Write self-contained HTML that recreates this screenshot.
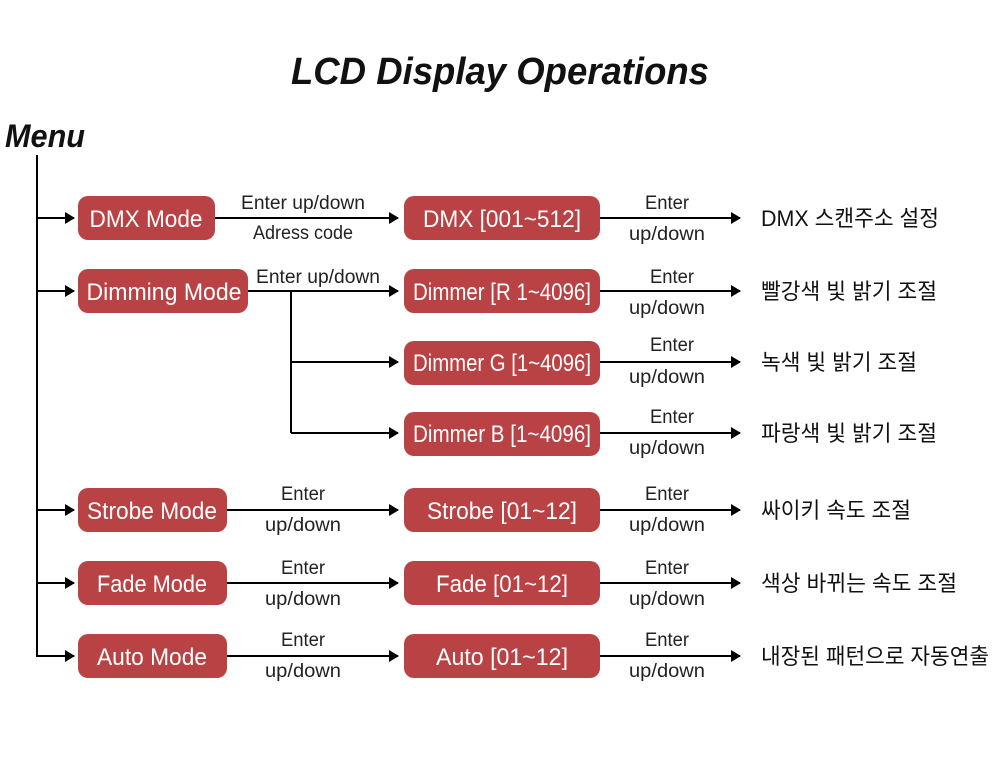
<!DOCTYPE html>
<html><head><meta charset="utf-8"><style>
body{margin:0;background:#fff;width:1000px;height:757px;overflow:hidden}
svg{display:block}
.bx{fill:#b94244}
.wt{fill:#fff;font-family:"Liberation Sans",sans-serif;font-size:24px}
.lb{fill:#222;font-family:"Liberation Sans",sans-serif;font-size:19px}
.kr{fill:#111;font-family:"Liberation Sans","Noto Sans CJK KR",sans-serif;font-size:22px}
</style></head><body>
<svg width="1000" height="757" viewBox="0 0 1000 757">
<defs><marker id="a" markerWidth="10" markerHeight="12" refX="9" refY="6" orient="auto" markerUnits="userSpaceOnUse"><path d="M0,0 L10,6 L0,12 Z" fill="#000"/></marker></defs>
<text x="500" y="84" text-anchor="middle" font-family="Liberation Sans,sans-serif" font-size="38" font-style="italic" font-weight="bold" fill="#111" textLength="418" lengthAdjust="spacingAndGlyphs">LCD Display Operations</text>
<text x="5" y="147" font-family="Liberation Sans,sans-serif" font-size="32" font-style="italic" font-weight="bold" fill="#111" textLength="80" lengthAdjust="spacingAndGlyphs">Menu</text>
<g stroke="#000" stroke-width="2" fill="none">
<line x1="37" y1="155" x2="37" y2="657"/>
<line x1="37" y1="218" x2="74" y2="218" marker-end="url(#a)"/>
<line x1="37" y1="291" x2="74" y2="291" marker-end="url(#a)"/>
<line x1="37" y1="510" x2="74" y2="510" marker-end="url(#a)"/>
<line x1="37" y1="583" x2="74" y2="583" marker-end="url(#a)"/>
<line x1="37" y1="656" x2="74" y2="656" marker-end="url(#a)"/>
<line x1="215" y1="218" x2="398" y2="218" marker-end="url(#a)"/>
<line x1="248" y1="291" x2="398" y2="291" marker-end="url(#a)"/>
<line x1="291" y1="291" x2="291" y2="433"/>
<line x1="291" y1="362" x2="398" y2="362" marker-end="url(#a)"/>
<line x1="291" y1="433" x2="398" y2="433" marker-end="url(#a)"/>
<line x1="227" y1="510" x2="398" y2="510" marker-end="url(#a)"/>
<line x1="227" y1="583" x2="398" y2="583" marker-end="url(#a)"/>
<line x1="227" y1="656" x2="398" y2="656" marker-end="url(#a)"/>
<line x1="600" y1="218" x2="740" y2="218" marker-end="url(#a)"/>
<line x1="600" y1="291" x2="740" y2="291" marker-end="url(#a)"/>
<line x1="600" y1="362" x2="740" y2="362" marker-end="url(#a)"/>
<line x1="600" y1="433" x2="740" y2="433" marker-end="url(#a)"/>
<line x1="600" y1="510" x2="740" y2="510" marker-end="url(#a)"/>
<line x1="600" y1="583" x2="740" y2="583" marker-end="url(#a)"/>
<line x1="600" y1="656" x2="740" y2="656" marker-end="url(#a)"/>
</g>
<rect class="bx" x="78" y="196" width="137" height="44" rx="10"/>
<rect class="bx" x="78" y="269" width="170" height="44" rx="10"/>
<rect class="bx" x="78" y="488" width="149" height="44" rx="10"/>
<rect class="bx" x="78" y="561" width="149" height="44" rx="10"/>
<rect class="bx" x="78" y="634" width="149" height="44" rx="10"/>
<rect class="bx" x="404" y="196" width="196" height="44" rx="10"/>
<rect class="bx" x="404" y="269" width="196" height="44" rx="10"/>
<rect class="bx" x="404" y="341" width="196" height="44" rx="10"/>
<rect class="bx" x="404" y="412" width="196" height="44" rx="10"/>
<rect class="bx" x="404" y="488" width="196" height="44" rx="10"/>
<rect class="bx" x="404" y="561" width="196" height="44" rx="10"/>
<rect class="bx" x="404" y="634" width="196" height="44" rx="10"/>
<g class="wt" text-anchor="middle">
<text x="146" y="227" textLength="113" lengthAdjust="spacingAndGlyphs">DMX Mode</text>
<text x="164" y="300" textLength="155" lengthAdjust="spacingAndGlyphs">Dimming Mode</text>
<text x="152" y="519" textLength="130" lengthAdjust="spacingAndGlyphs">Strobe Mode</text>
<text x="152" y="592" textLength="110" lengthAdjust="spacingAndGlyphs">Fade Mode</text>
<text x="152" y="665" textLength="110" lengthAdjust="spacingAndGlyphs">Auto Mode</text>
<text x="502" y="227" textLength="158" lengthAdjust="spacingAndGlyphs">DMX [001~512]</text>
<text x="502" y="300" textLength="178" lengthAdjust="spacingAndGlyphs">Dimmer [R 1~4096]</text>
<text x="502" y="371" textLength="178" lengthAdjust="spacingAndGlyphs">Dimmer G [1~4096]</text>
<text x="502" y="442" textLength="178" lengthAdjust="spacingAndGlyphs">Dimmer B [1~4096]</text>
<text x="502" y="519" textLength="150" lengthAdjust="spacingAndGlyphs">Strobe [01~12]</text>
<text x="502" y="592" textLength="132" lengthAdjust="spacingAndGlyphs">Fade [01~12]</text>
<text x="502" y="665" textLength="132" lengthAdjust="spacingAndGlyphs">Auto [01~12]</text>
</g>
<g class="lb" text-anchor="middle">
<text x="303" y="209" textLength="124" lengthAdjust="spacingAndGlyphs">Enter up/down</text>
<text x="303" y="239" textLength="100" lengthAdjust="spacingAndGlyphs">Adress code</text>
<text x="318" y="283" textLength="124" lengthAdjust="spacingAndGlyphs">Enter up/down</text>
<text x="303" y="500" textLength="44" lengthAdjust="spacingAndGlyphs">Enter</text>
<text x="303" y="531" textLength="76" lengthAdjust="spacingAndGlyphs">up/down</text>
<text x="303" y="574" textLength="44" lengthAdjust="spacingAndGlyphs">Enter</text>
<text x="303" y="605" textLength="76" lengthAdjust="spacingAndGlyphs">up/down</text>
<text x="303" y="646" textLength="44" lengthAdjust="spacingAndGlyphs">Enter</text>
<text x="303" y="677" textLength="76" lengthAdjust="spacingAndGlyphs">up/down</text>
<text x="667" y="209" textLength="44" lengthAdjust="spacingAndGlyphs">Enter</text>
<text x="667" y="240" textLength="76" lengthAdjust="spacingAndGlyphs">up/down</text>
<text x="672" y="283" textLength="44" lengthAdjust="spacingAndGlyphs">Enter</text>
<text x="667" y="314" textLength="76" lengthAdjust="spacingAndGlyphs">up/down</text>
<text x="672" y="351" textLength="44" lengthAdjust="spacingAndGlyphs">Enter</text>
<text x="667" y="383" textLength="76" lengthAdjust="spacingAndGlyphs">up/down</text>
<text x="672" y="423" textLength="44" lengthAdjust="spacingAndGlyphs">Enter</text>
<text x="667" y="454" textLength="76" lengthAdjust="spacingAndGlyphs">up/down</text>
<text x="667" y="500" textLength="44" lengthAdjust="spacingAndGlyphs">Enter</text>
<text x="667" y="531" textLength="76" lengthAdjust="spacingAndGlyphs">up/down</text>
<text x="667" y="574" textLength="44" lengthAdjust="spacingAndGlyphs">Enter</text>
<text x="667" y="605" textLength="76" lengthAdjust="spacingAndGlyphs">up/down</text>
<text x="667" y="646" textLength="44" lengthAdjust="spacingAndGlyphs">Enter</text>
<text x="667" y="677" textLength="76" lengthAdjust="spacingAndGlyphs">up/down</text>
</g>
<g class="kr">
<text x="761" y="226" textLength="178" lengthAdjust="spacingAndGlyphs">DMX 스캔주소 설정</text>
<text x="761" y="299" textLength="176" lengthAdjust="spacingAndGlyphs">빨강색 빛 밝기 조절</text>
<text x="761" y="370" textLength="156" lengthAdjust="spacingAndGlyphs">녹색 빛 밝기 조절</text>
<text x="761" y="441" textLength="176" lengthAdjust="spacingAndGlyphs">파랑색 빛 밝기 조절</text>
<text x="761" y="518" textLength="150" lengthAdjust="spacingAndGlyphs">싸이키 속도 조절</text>
<text x="761" y="591" textLength="196" lengthAdjust="spacingAndGlyphs">색상 바뀌는 속도 조절</text>
<text x="761" y="664" textLength="228" lengthAdjust="spacingAndGlyphs">내장된 패턴으로 자동연출</text>
</g>
</svg>
</body></html>
